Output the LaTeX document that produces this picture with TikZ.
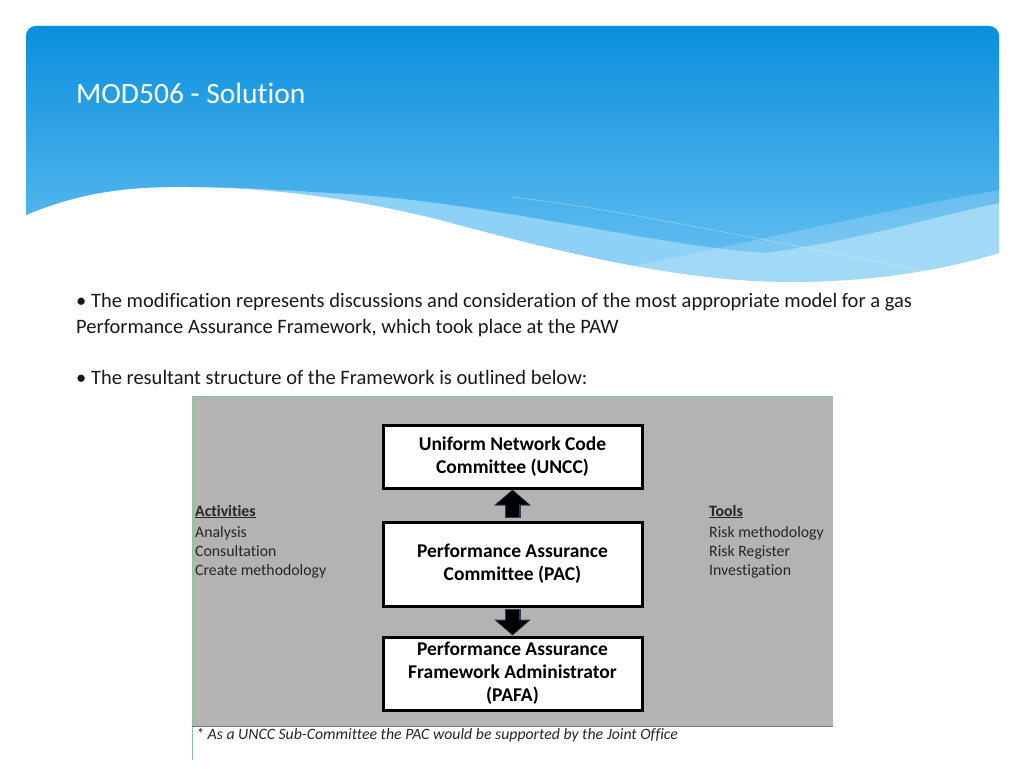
\documentclass[tikz,border=0pt]{standalone}
\usepackage{fontspec}
\setmainfont{Carlito}[Ligatures={NoCommon}]
\usetikzlibrary{arrows.meta}

\definecolor{headtop}{HTML}{0A8FDC}
\definecolor{headbot}{HTML}{5EBCF0}
\definecolor{headband}{HTML}{8ED1F6}
\definecolor{diagfill}{HTML}{B3B3B3}
\definecolor{diagframe}{HTML}{8DC39B}
\definecolor{arrowglow}{HTML}{23405F}

\tikzset{
  body/.style={anchor=base west, inner sep=0pt, text=black!90, font=\fontsize{20.5}{26}\selectfont},
  side/.style={anchor=base west, inner sep=0pt, text=black!85, font=\fontsize{15.8}{19}\selectfont},
  level/.style={draw=black, line width=3pt, fill=white, minimum width=259pt, align=center,
    inner sep=0pt, font=\bfseries\fontsize{19.5}{23}\selectfont},
  blockglow/.style={arrowglow, line width=16pt, -{Triangle[width=36pt,length=16pt]}},
  blockarrow/.style={black, line width=13pt, -{Triangle[width=32pt,length=14pt]}}
}

\begin{document}
\begin{tikzpicture}[x=1pt, y=-1pt]
    \useasboundingbox (0,0) rectangle (1024,768);
    \fill[white] (0,0) rectangle (1024,768);

    % header with its wave
    \fill[headband] (26,215) -- (26,36) arc[start angle=180, end angle=270, radius=10]
        -- (989,26) arc[start angle=270, end angle=360, radius=10] -- (999,253)
        .. controls (950,268) and (880,282) .. (790,282)
        .. controls (680,282) and (560,252) .. (440,220)
        .. controls (360,200) and (280,188) .. (190,187)
        .. controls (130,186) and (80,192) .. (26,215);
    \shade[top color=headtop, bottom color=headbot] (26,215) -- (26,36) arc[start angle=180, end angle=270, radius=10]
        -- (989,26) arc[start angle=270, end angle=360, radius=10] -- (999,203)
        .. controls (940,215) and (860,240) .. (765,253)
        .. controls (650,245) and (480,200) .. (330,193)
        .. controls (280,190) and (240,187) .. (190,187)
        .. controls (130,186) and (80,192) .. (26,215);
    \fill[white, opacity=0.18] (999,190) .. controls (860,215) and (720,250) .. (600,272)
        .. controls (680,282) and (740,283) .. (790,282)
        .. controls (880,282) and (950,268) .. (999,253) -- cycle;
    \begin{scope}
        \clip (26,26) rectangle (999,300);
        \draw[white, opacity=0.35, line width=0.6pt] (512,197) .. controls (620,210) and (700,228) .. (999,285);
    \end{scope}

    \node[anchor=base west, inner sep=0pt, text=white, font=\fontsize{29.5}{36}\selectfont] (title) at (76,103) {MOD506 - Solution};

    % bullet text
    \node[body] (line1) at (76,307) {• The modification represents discussions and consideration of the most appropriate model for a gas};
    \node[body] (line2) at (76,333) {Performance Assurance Framework, which took place at the PAW};
    \node[body] (line3) at (76,384) {• The resultant structure of the Framework is outlined below:};

    % framework picture
    \fill[diagfill] (192,396) rectangle (833,726);
    \draw[diagframe, line width=1pt] (833,396) -- (192,396) -- (192,760);
    \draw[black!55, line width=1pt] (192,726) -- (833,726);

    \node[level, minimum height=63pt] (uncc) at (512.5,456.5) {Uniform Network Code\\Committee (UNCC)};
    \node[level, minimum height=84pt] (pac) at (512.5,564) {Performance Assurance\\Committee (PAC)};
    \node[level, minimum height=73pt] (pafa) at (512.5,673.5) {Performance Assurance\\Framework Administrator\\(PAFA)};

    \draw[blockglow, shorten <=3pt] (pac.north) -- (uncc.south);
    \draw[blockarrow, shorten <=4pt, shorten >=1pt] (pac.north) -- (uncc.south);
    \draw[blockglow, shorten <=1pt] (pac.south) -- (pafa.north);
    \draw[blockarrow, shorten <=2pt, shorten >=1pt] (pac.south) -- (pafa.north);

    \node[side, font=\bfseries\fontsize{15.8}{19}\selectfont] (acts) at (195,516) {\underline{Activities}};
    \node[side] (act1) at (195,537) {Analysis};
    \node[side] (act2) at (195,556) {Consultation};
    \node[side] (act3) at (195,575) {Create methodology};

    \node[side, font=\bfseries\fontsize{15.8}{19}\selectfont] (tools) at (709,516) {\underline{Tools}};
    \node[side] (tool1) at (709,537) {Risk methodology};
    \node[side] (tool2) at (709,556) {Risk Register};
    \node[side] (tool3) at (709,575) {Investigation};

    \node[anchor=base west, inner sep=0pt, text=black!85, font=\itshape\fontsize{15.8}{18}\selectfont] (note) at (196,739)
        {* As a UNCC Sub-Committee the PAC would be supported by the Joint Office};
\end{tikzpicture}
\end{document}
